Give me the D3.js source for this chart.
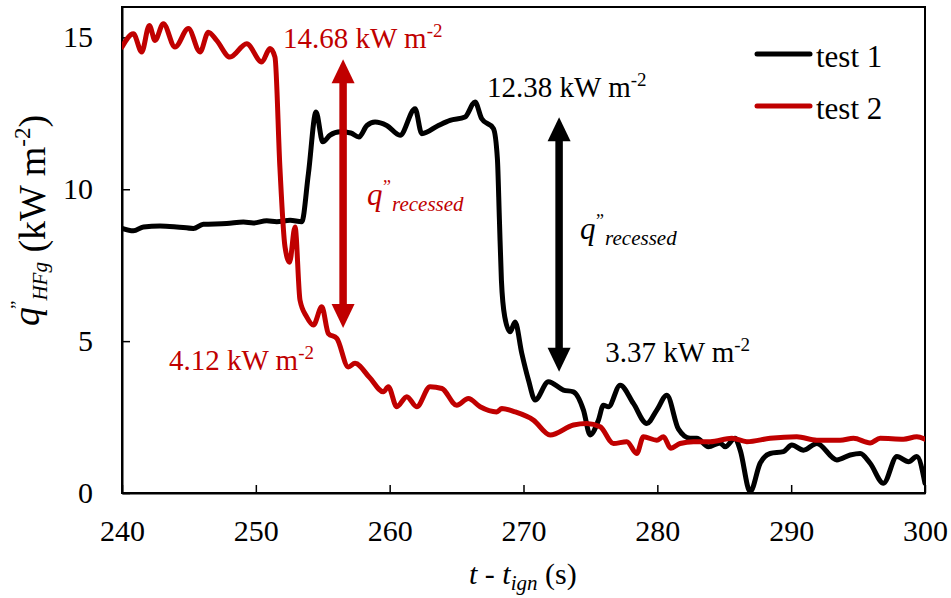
<!DOCTYPE html>
<html>
<head>
<meta charset="utf-8">
<script src="https://cdn.jsdelivr.net/npm/d3@7"></script>
<style>
  html, body { margin: 0; padding: 0; background: #fff; }
</style>
</head>
<body>
<svg id="chart" width="951" height="598"></svg>
<script>
// ---------------- data ----------------
const seriesNames = ["test 1", "test 2"];
const seriesColors = ["#000000", "#C00000"];

const tTest1 = [240, 240.85, 241.6, 242.84, 244.09, 245.33, 246.08, 247.82, 249.07, 249.81, 250.81, 251.56,
  252.56, 253.43, 253.93, 254.5, 255.0, 255.55, 256.3, 257.1, 257.7, 258.3, 258.91, 259.78, 260.78, 261.9,
  262.4, 263.64, 264.51, 265.63, 266.38, 266.88, 267.75, 268.05, 268.2, 268.35, 268.6, 269.0, 269.37, 269.87,
  270.37, 270.87, 271.86, 272.98, 273.73, 274.48, 274.98, 275.6, 275.97, 276.35, 277.22, 278.21, 279.21,
  279.96, 280.71, 281.58, 282.45, 282.95, 283.82, 284.69, 285.07, 285.81, 286.19, 286.94, 287.68, 288.43,
  289.42, 290.05, 290.92, 291.92, 293.41, 294.41, 295.16, 295.9, 296.9, 297.9, 298.77, 299.39, 300];
const qTest1 = [8.71, 8.63, 8.76, 8.79, 8.76, 8.71, 8.85, 8.87, 8.92, 8.89, 8.96, 8.93,
  8.98, 8.93, 10.52, 12.54, 11.56, 11.78, 11.89, 11.85, 11.72, 12.1, 12.21, 12.1, 11.78, 12.65,
  11.83, 12.1, 12.27, 12.38, 12.87, 12.32, 12.0, 11.0, 9.0, 7.0, 5.8, 5.31, 5.63, 4.6,
  3.72, 3.06, 3.66, 3.39, 3.33, 2.73, 1.91, 2.4, 2.89, 2.84, 3.55, 2.95, 2.29,
  2.73, 3.22, 2.1, 1.8, 1.8, 1.52, 1.65, 1.52, 1.8, 1.41, 0.04, 0.98, 1.3,
  1.36, 1.58, 1.41, 1.63, 1.09, 1.25, 1.3, 0.98, 0.32, 1.2, 1.03, 1.2, 0.32];

const tTest2 = [240, 240.85, 241.47, 242.04, 242.47, 243.09, 243.96, 244.96, 245.83, 246.45, 247.07, 248.07,
  249.32, 250.44, 251.06, 251.43, 251.8, 252.18, 252.52, 252.93, 253.3, 253.8, 254.3, 254.93, 255.42, 256.05,
  256.91, 257.41, 258.5, 259.53, 259.9, 260.53, 261.28, 262.02, 263.02, 263.9, 265.01, 265.88, 266.76, 268.0,
  268.38, 269.37, 270.74, 271.99, 273.73, 274.73, 275.73, 276.72, 277.72, 278.46, 278.96, 279.96, 280.46,
  281.0, 281.7, 282.7, 283.95, 285.57, 286.69, 288.43, 290.42, 291.92, 293.66, 294.66, 295.9, 296.65,
  298.39, 299.39, 300];
const qTest2 = [14.68, 15.12, 14.52, 15.39, 14.9, 15.45, 14.68, 15.29, 14.52, 15.17, 14.9, 14.35,
  14.79, 14.19, 14.63, 14.35, 10.7, 8.1, 7.6, 8.76, 6.35, 5.8, 5.53, 6.13, 5.25, 5.09,
  4.15, 4.27, 3.8, 3.33, 3.5, 2.84, 3.17, 2.84, 3.5, 3.44, 2.89, 3.11, 2.84, 2.67,
  2.78, 2.67, 2.4, 1.91, 2.24, 2.29, 2.18, 1.63, 1.69, 1.3, 1.85, 1.74, 1.85,
  1.47, 1.63, 1.69, 1.69, 1.8, 1.69, 1.8, 1.85, 1.74, 1.74, 1.8, 1.65, 1.8,
  1.77, 1.85, 1.77];

const xTicks = [240, 250, 260, 270, 280, 290, 300];
const yTicks = [0, 5, 10, 15];
const xDomain = [240, 300];
const yDomain = [0, 16];

// annotations (data units)
const valueLabels = ["14.68", "12.38", "3.37", "4.12"];
const valueLabelT = [252.03, 267.28, 276.1, 243.51];
const valueLabelQ = [14.64, 13.04, 4.32, 4.05];
const valueLabelSeries = [1, 0, 0, 1];

const arrowT = [256.52, 272.66];
const arrowLow = [5.43, 3.99];
const arrowHigh = [14.28, 12.37];
const arrowSeries = [1, 0];

const qLabelT = [258.31, 274.23];
const qLabelQ = [9.48, 8.36];
const qLabelSeries = [1, 0];

// ---------------- chart ----------------
const FONT = '"Liberation Serif", serif';
const svg = d3.select("#chart");
const margin = { left: 122, right: 26, top: 7, bottom: 105 };
const W = 951, H = 598;
const x = d3.scaleLinear().domain(xDomain).range([margin.left, W - margin.right]);
const y = d3.scaleLinear().domain(yDomain).range([H - margin.bottom, margin.top]);

// plot frame
svg.append("rect")
  .attr("x", x(xDomain[0])).attr("y", y(yDomain[1]))
  .attr("width", x(xDomain[1]) - x(xDomain[0]))
  .attr("height", y(yDomain[0]) - y(yDomain[1]))
  .attr("fill", "none").attr("stroke", "#000").attr("stroke-width", 2);

// axes
const xAxis = d3.axisBottom(x).tickValues(xTicks).tickSizeInner(-8).tickSizeOuter(0).tickPadding(27);
const gx = svg.append("g").attr("transform", `translate(0,${y(0)})`).call(xAxis);
const yAxis = d3.axisLeft(y).tickValues(yTicks).tickSizeInner(-8).tickSizeOuter(0).tickPadding(29);
const gy = svg.append("g").attr("transform", `translate(${x(240)},0)`).call(yAxis);
[gx, gy].forEach(g => {
  g.attr("font-family", FONT);
  g.select(".domain").attr("stroke", "#000").attr("stroke-width", 2);
  g.selectAll(".tick line").attr("stroke", "#000").attr("stroke-width", 1.5);
  g.selectAll(".tick text").attr("fill", "#000")
    .style("font-family", FONT).style("font-size", "30px");
});

// lines
const line = d3.line().x(d => x(d[0])).y(d => y(d[1])).curve(d3.curveMonotoneX);
const series = [d3.zip(tTest1, qTest1), d3.zip(tTest2, qTest2)];
svg.append("clipPath").attr("id", "clip").append("rect")
  .attr("x", x(240)).attr("y", y(16)).attr("width", x(300) - x(240)).attr("height", y(0) - y(16) + 1);
svg.append("g").attr("clip-path", "url(#clip)")
  .selectAll("path").data([0, 1]).join("path")
  .attr("d", i => line(series[i]))
  .attr("fill", "none")
  .attr("stroke", i => seriesColors[i])
  .attr("stroke-width", 5)
  .attr("stroke-linejoin", "round")
  .attr("stroke-linecap", "round");

svg.append("line").attr("x1", x(240)).attr("x2", x(300)).attr("y1", y(0)).attr("y2", y(0))
  .attr("stroke", "#000").attr("stroke-width", 2);

// arrows
const headLen = 24, headHalf = 11.5, shaftW = 7.5;
arrowT.forEach((t, i) => {
  const col = seriesColors[arrowSeries[i]];
  const ax = x(t), yTop = y(arrowHigh[i]), yBot = y(arrowLow[i]);
  svg.append("line").attr("x1", ax).attr("x2", ax)
    .attr("y1", yTop + headLen - 2).attr("y2", yBot - headLen + 2)
    .attr("stroke", col).attr("stroke-width", shaftW);
  svg.append("path")
    .attr("d", `M${ax},${yTop}L${ax - headHalf},${yTop + headLen}L${ax + headHalf},${yTop + headLen}Z`)
    .attr("fill", col);
  svg.append("path")
    .attr("d", `M${ax},${yBot}L${ax - headHalf},${yBot - headLen}L${ax + headHalf},${yBot - headLen}Z`)
    .attr("fill", col);
});

// value labels
valueLabels.forEach((v, i) => {
  const tx = svg.append("text")
    .attr("x", x(valueLabelT[i])).attr("y", y(valueLabelQ[i]))
    .attr("fill", seriesColors[valueLabelSeries[i]])
    .style("font-family", FONT)
    .style("font-size", "29px");
  tx.append("tspan").text(v + " kW m");
  tx.append("tspan").attr("dy", -11).style("font-size", "19px").text("-2");
});

// q'' recessed labels
qLabelT.forEach((t, i) => {
  const col = seriesColors[qLabelSeries[i]];
  const bx = x(t), by = y(qLabelQ[i]);
  const g = svg.append("g").attr("fill", col);
  g.append("text").attr("x", bx).attr("y", by)
    .style("font-family", FONT)
    .style("font-size", "31px").style("font-style", "italic").text("q");
  g.append("text").attr("x", bx + 16).attr("y", by - 12)
    .style("font-family", FONT)
    .style("font-size", "18px").text("\u201D");
  g.append("text").attr("x", bx + 25).attr("y", by + 6)
    .style("font-family", FONT)
    .style("font-size", "21px").style("font-style", "italic").text("recessed");
});

// legend
seriesNames.forEach((n, i) => {
  const ly = 54 + i * 52;
  svg.append("line").attr("x1", 757).attr("x2", 810).attr("y1", ly).attr("y2", ly)
    .attr("stroke", seriesColors[i]).attr("stroke-width", 5).attr("stroke-linecap", "round");
  svg.append("text").attr("x", 816).attr("y", ly + 12.5)
    .style("font-family", FONT)
    .attr("fill", "#000").style("font-size", "31px").text(n);
});

// y axis title
const yt = svg.append("text")
  .attr("transform", `translate(45,326) rotate(-90)`)
  .style("font-family", FONT)
  .attr("fill", "#000").style("font-size", "38px");
yt.append("tspan").attr("dy", -6).style("font-style", "italic").style("font-size", "38px").text("q");
yt.append("tspan").attr("dy", -15).attr("dx", -2).style("font-size", "19px").text("\u201D");
yt.append("tspan").attr("dy", 23).style("font-style", "italic").style("font-size", "21px").text("HFg");
yt.append("tspan").attr("dy", -2).text(" (kW m");
yt.append("tspan").attr("dy", -15).style("font-size", "23px").text("-2");
yt.append("tspan").attr("dy", 15).text(")");

// x axis title
const xt = svg.append("text")
  .attr("x", 469).attr("y", 584)
  .style("font-family", FONT)
  .attr("fill", "#000").style("font-size", "30px");
xt.append("tspan").style("font-style", "italic").text("t - t");
xt.append("tspan").attr("dy", 6).style("font-style", "italic").style("font-size", "21px").text("ign");
xt.append("tspan").attr("dy", -6).text(" (s)");
</script>
</body>
</html>
